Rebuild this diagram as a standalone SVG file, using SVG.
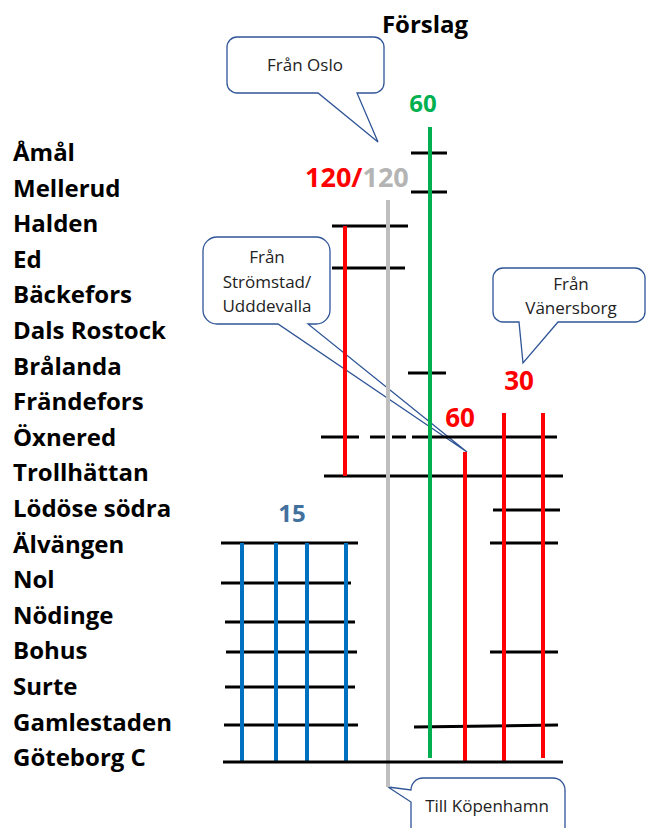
<svg xmlns="http://www.w3.org/2000/svg" width="646" height="828" viewBox="0 0 646 828">
<style>
.st{font-family:"Open Sans","Liberation Sans",sans-serif;font-weight:bold;font-size:24px;fill:#000}
.num{font-family:"Open Sans","Liberation Sans",sans-serif;font-weight:bold}
.mid{text-anchor:middle}
.co{fill:#fff;stroke:#2F5597;stroke-width:1.3;stroke-linejoin:miter}
.ct{font-family:"Open Sans","Liberation Sans",sans-serif;font-size:17px;fill:#222;text-anchor:middle}
.tk{stroke:#000;stroke-width:3;fill:none}
.red{stroke:#FF0000;stroke-width:4}
.blu{stroke:#0070C0;stroke-width:4}
.grn{stroke:#00B050;stroke-width:4}
.gry{stroke:#BFBFBF;stroke-width:4}
</style>
<rect width="646" height="828" fill="#fff"/>

<g id="title"><text class="st mid" x="425" y="33">Förslag</text></g>

<g id="stations">
<g id="s-amal"><text class="st" x="13" y="161">Åmål</text></g>
<g id="s-mellerud"><text class="st" x="13" y="196.6">Mellerud</text></g>
<g id="s-halden"><text class="st" x="13" y="232.2">Halden</text></g>
<g id="s-ed"><text class="st" x="13" y="267.8">Ed</text></g>
<g id="s-backefors"><text class="st" x="13" y="303.4">Bäckefors</text></g>
<g id="s-dalsrostock"><text class="st" x="13" y="339">Dals Rostock</text></g>
<g id="s-bralanda"><text class="st" x="13" y="374.6">Brålanda</text></g>
<g id="s-frandefors"><text class="st" x="13" y="410.2">Frändefors</text></g>
<g id="s-oxnered"><text class="st" x="13" y="445.8">Öxnered</text></g>
<g id="s-trollhattan"><text class="st" x="13" y="481.4">Trollhättan</text></g>
<g id="s-lodose"><text class="st" x="13" y="517">Lödöse södra</text></g>
<g id="s-alvangen"><text class="st" x="13" y="552.6">Älvängen</text></g>
<g id="s-nol"><text class="st" x="13" y="588.2">Nol</text></g>
<g id="s-nodinge"><text class="st" x="13" y="623.8">Nödinge</text></g>
<g id="s-bohus"><text class="st" x="13" y="659.4">Bohus</text></g>
<g id="s-surte"><text class="st" x="13" y="695">Surte</text></g>
<g id="s-gamlestaden"><text class="st" x="13" y="730.6">Gamlestaden</text></g>
<g id="s-goteborg"><text class="st" x="13" y="766.2">Göteborg C</text></g>
</g>

<g id="callout-oslo">
<path class="co" d="M237,37 H374 A10,10 0 0 1 384,47 V83 A10,10 0 0 1 374,93 H357 L378,142 L318,93 H237 A10,10 0 0 1 227,83 V47 A10,10 0 0 1 237,37 Z"/>
<text class="ct" x="305" y="71">Från Oslo</text>
</g>
<g id="callout-stromstad">
<path class="co" d="M217,237 H316 A14,14 0 0 1 330,251 V310 A14,14 0 0 1 316,324 H308 L467,452 L278,324 H217 A14,14 0 0 1 203,310 V251 A14,14 0 0 1 217,237 Z"/>
<text class="ct" x="267" y="263">Från</text>
<text class="ct" x="267" y="288">Strömstad/</text>
<text class="ct" x="267" y="312">Udddevalla</text>
</g>
<g id="callout-vanersborg">
<path class="co" d="M503,268 H635 A10,10 0 0 1 645,278 V312 A10,10 0 0 1 635,322 H558 L523,363 L519,322 H503 A10,10 0 0 1 493,312 V278 A10,10 0 0 1 503,268 Z"/>
<text class="ct" x="571" y="290">Från</text>
<text class="ct" x="571" y="314">Vänersborg</text>
</g>
<g id="callout-kopenhamn">
<path class="co" d="M423,778 H553 A12,12 0 0 1 565,790 V840 H411 V802 L388,787 L411,790 A12,12 0 0 1 423,778 Z"/>
<text class="ct" x="487" y="812">Till Köpenhamn</text>
</g>

<g id="connectors">
<line class="tk" x1="411" y1="153" x2="447" y2="153"/>
<line class="tk" x1="411" y1="192" x2="447" y2="192"/>
<line class="tk" x1="332" y1="226" x2="408" y2="226"/>
<line class="tk" x1="332" y1="268" x2="405" y2="268"/>
<line class="tk" x1="408" y1="373" x2="446" y2="373"/>
<line class="tk" x1="321" y1="437" x2="359" y2="437"/>
<line class="tk" x1="370" y1="437" x2="385" y2="437"/>
<line class="tk" x1="392" y1="437" x2="406" y2="437"/>
<line class="tk" x1="412" y1="437" x2="557" y2="437"/>
<line class="tk" x1="324" y1="476" x2="563" y2="476"/>
<line class="tk" x1="493" y1="510" x2="560" y2="510"/>
<line class="tk" x1="221" y1="543" x2="358" y2="543"/>
<line class="tk" x1="490" y1="543" x2="558" y2="543"/>
<line class="tk" x1="221" y1="583" x2="351" y2="583"/>
<line class="tk" x1="225" y1="622" x2="355" y2="622"/>
<line class="tk" x1="226" y1="652" x2="357" y2="652"/>
<line class="tk" x1="490" y1="652" x2="558" y2="652"/>
<line class="tk" x1="225" y1="687" x2="355" y2="687"/>
<line class="tk" x1="224" y1="725" x2="358" y2="725"/>
<line class="tk" x1="414" y1="727" x2="558" y2="725"/>
<line class="gry" x1="388" y1="200" x2="388" y2="787"/>
<line class="grn" x1="430" y1="127" x2="430" y2="758"/>
<line class="red" x1="345" y1="226" x2="345" y2="476"/>
<line class="red" x1="465" y1="452" x2="465" y2="762"/>
<line class="red" x1="504" y1="413" x2="504" y2="762"/>
<line class="red" x1="543" y1="413" x2="543" y2="758"/>
<line class="blu" x1="242" y1="543" x2="242" y2="762"/>
<line class="blu" x1="276" y1="543" x2="276" y2="762"/>
<line class="blu" x1="307" y1="543" x2="307" y2="762"/>
<line class="blu" x1="346" y1="543" x2="346" y2="762"/>
<line class="tk" x1="223" y1="762" x2="563" y2="762"/>
</g>

<g id="labels">
<g id="lbl-60g"><text class="num mid" x="423" y="112" font-size="24" fill="#00B050">60</text></g>
<g id="lbl-120"><text class="num" x="305" y="187" font-size="27"><tspan fill="#FF0000">120/</tspan><tspan fill="#B4B4B4">120</tspan></text></g>
<g id="lbl-60r"><text class="num mid" x="460" y="427" font-size="26" fill="#FF0000">60</text></g>
<g id="lbl-30"><text class="num mid" x="519" y="390" font-size="26" fill="#FF0000">30</text></g>
<g id="lbl-15"><text class="num mid" x="292" y="522" font-size="24" fill="#41719C">15</text></g>
</g>
</svg>
